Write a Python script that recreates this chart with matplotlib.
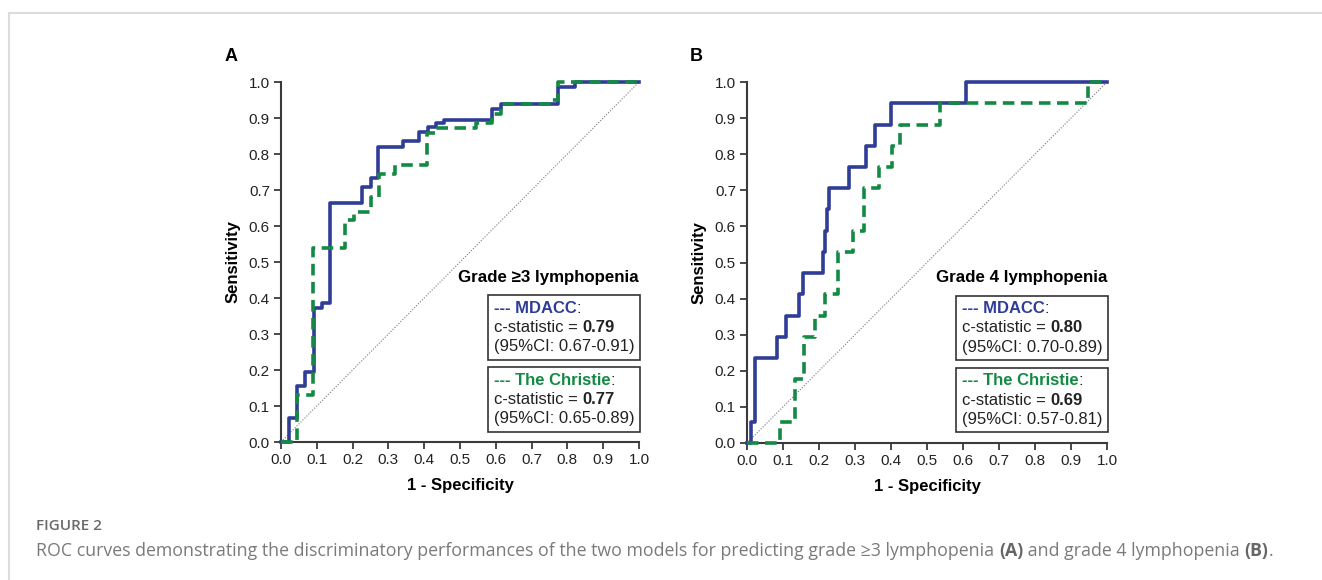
import matplotlib
matplotlib.use("Agg")
import matplotlib.pyplot as plt
from matplotlib.lines import Line2D
from matplotlib.offsetbox import TextArea, HPacker, VPacker, AnchoredOffsetbox

plt.rcParams['font.family'] = ['Liberation Sans', 'DejaVu Sans']

# ROC step points (1 - specificity, sensitivity)
a_mdacc_fpr = [0, 0.022, 0.044, 0.067, 0.092, 0.115, 0.137, 0.226, 0.25, 0.272, 0.342,
               0.386, 0.41, 0.433, 0.455, 0.59, 0.615, 0.775, 0.82, 1.0]
a_mdacc_tpr = [0, 0.066, 0.156, 0.194, 0.371, 0.385, 0.665, 0.707, 0.733, 0.82, 0.836,
               0.86, 0.876, 0.887, 0.895, 0.925, 0.938, 0.987, 1.0, 1.0]
a_christie_fpr = [0, 0.044, 0.09, 0.18, 0.205, 0.251, 0.274, 0.318, 0.407, 0.43, 0.544,
                  0.59, 0.615, 0.75, 0.775, 1.0]
a_christie_tpr = [0, 0.13, 0.538, 0.617, 0.639, 0.68, 0.744, 0.769, 0.859, 0.871, 0.885,
                  0.91, 0.938, 0.95, 1.0, 1.0]

b_mdacc_fpr = [0, 0.01, 0.021, 0.084, 0.107, 0.144, 0.156, 0.211, 0.218, 0.223, 0.228,
               0.282, 0.331, 0.356, 0.399, 0.607, 1.0]
b_mdacc_tpr = [0, 0.059, 0.235, 0.294, 0.353, 0.412, 0.471, 0.529, 0.588, 0.647, 0.706,
               0.765, 0.824, 0.882, 0.941, 1.0, 1.0]
b_christie_fpr = [0, 0.091, 0.134, 0.157, 0.188, 0.218, 0.253, 0.294, 0.325, 0.367, 0.404,
                  0.426, 0.537, 0.947, 1.0]
b_christie_tpr = [0, 0.059, 0.176, 0.294, 0.353, 0.412, 0.529, 0.588, 0.706, 0.765, 0.824,
                  0.882, 0.941, 1.0, 1.0]

panel_letters = ["A", "B"]
panel_titles = ["Grade \u22653 lymphopenia", "Grade 4 lymphopenia"]
mdacc_c = ["0.79", "0.80"]
mdacc_ci = ["(95%CI: 0.67-0.91)", "(95%CI: 0.70-0.89)"]
christie_c = ["0.77", "0.69"]
christie_ci = ["(95%CI: 0.65-0.89)", "(95%CI: 0.57-0.81)"]
ticks = [0.0, 0.1, 0.2, 0.3, 0.4, 0.5, 0.6, 0.7, 0.8, 0.9, 1.0]

BLUE = "#2f3d97"
GREEN = "#138a43"
SPINE = "#3a3a3a"
BOX_FS = 12

W, H = 1322, 580
fig = plt.figure(figsize=(W / 100, H / 100), dpi=100)

# card border (top + left)
fig.add_artist(Line2D([9 / W, 1], [1 - 13 / H, 1 - 13 / H], color="#dcdcdc", lw=1.5,
                      transform=fig.transFigure))
fig.add_artist(Line2D([9 / W, 9 / W], [0, 1 - 13 / H], color="#dcdcdc", lw=1.5,
                      transform=fig.transFigure))

# axes placement in pixels: left, right, top, bottom
boxes = [(281, 639, 82, 442), (747, 1107, 82, 443)]
curves = [
    (a_mdacc_fpr, a_mdacc_tpr, a_christie_fpr, a_christie_tpr),
    (b_mdacc_fpr, b_mdacc_tpr, b_christie_fpr, b_christie_tpr),
]


def stat_box(ax, name, color, c_val, ci, top):
    line1 = HPacker(children=[
        TextArea("--- " + name, textprops=dict(color=color, fontweight="bold", fontsize=BOX_FS)),
        TextArea(":", textprops=dict(color="#222222", fontsize=BOX_FS)),
    ], sep=0, pad=0, align="baseline")
    line2 = HPacker(children=[
        TextArea("c-statistic = ", textprops=dict(color="#222222", fontsize=BOX_FS)),
        TextArea(c_val, textprops=dict(color="#222222", fontweight="bold", fontsize=BOX_FS)),
    ], sep=0, pad=0, align="baseline")
    line3 = TextArea(ci, textprops=dict(color="#222222", fontsize=BOX_FS))
    vp = VPacker(children=[line1, line2, line3], sep=3, pad=0, align="left")
    box = AnchoredOffsetbox(loc="upper right", child=vp, pad=0.4, borderpad=0,
                            frameon=True, bbox_to_anchor=(1.003, top),
                            bbox_transform=ax.transAxes)
    box.patch.set_edgecolor("#333333")
    box.patch.set_linewidth(1.2)
    box.patch.set_boxstyle("square", pad=0)
    ax.add_artist(box)


for i in range(2):
    l, r, t, b = boxes[i]
    ax = fig.add_axes([l / W, 1 - b / H, (r - l) / W, (b - t) / H])
    m_x, m_y, c_x, c_y = curves[i]
    ax.plot([0, 1], [0, 1], color="#777777", lw=0.8, ls=(0, (1, 1.5)), zorder=1)
    ax.plot(m_x, m_y, drawstyle="steps-post", color=BLUE, lw=2.6, clip_on=False, zorder=3)
    ax.plot(c_x, c_y, drawstyle="steps-post", color=GREEN, lw=2.6, ls=(0, (3.2, 1.8)),
            clip_on=False, zorder=4)
    ax.set_xlim(0, 1)
    ax.set_ylim(0, 1)
    ax.set_xticks(ticks)
    ax.set_yticks(ticks)
    ax.set_xticklabels([f"{v:.1f}" for v in ticks])
    ax.set_yticklabels([f"{v:.1f}" for v in ticks])
    for s in ["top", "right"]:
        ax.spines[s].set_visible(False)
    for s in ["left", "bottom"]:
        ax.spines[s].set_color(SPINE)
        ax.spines[s].set_linewidth(1.5)
    ax.tick_params(direction="out", length=5, width=1.3, color=SPINE, labelsize=11,
                   labelcolor="#222222", pad=3)
    ax.set_xlabel("1 - Specificity", fontsize=12, fontweight="bold", labelpad=8)
    ax.set_ylabel("Sensitivity", fontsize=12, fontweight="bold", labelpad=6)
    ax.text(-0.14, 1.07, panel_letters[i], transform=ax.transAxes, fontsize=13,
            fontweight="bold", ha="center", va="center")
    ax.text(1.0, 0.458, panel_titles[i], transform=ax.transAxes, fontsize=12.2,
            fontweight="bold", ha="right", va="center")
    stat_box(ax, "MDACC", BLUE, mdacc_c[i], mdacc_ci[i], 0.408)
    stat_box(ax, "The Christie", GREEN, christie_c[i], christie_ci[i], 0.208)

# caption
fig.text(36 / W, 1 - 526 / H, "FIGURE 2", family="Open Sans", fontsize=11,
         fontweight="semibold", color="#6a6a6a", va="center", ha="left")
cap_props = dict(family="Open Sans", fontsize=12.8, color="#7a7a7a")
cap_bold = dict(family="Open Sans", fontsize=12.8, color="#666666", fontweight="bold")
caption = HPacker(children=[
    TextArea("ROC curves demonstrating the discriminatory performances of the two models "
             "for predicting grade \u22653 lymphopenia ", textprops=cap_props),
    TextArea("(A)", textprops=cap_bold),
    TextArea(" and grade 4 lymphopenia ", textprops=cap_props),
    TextArea("(B)", textprops=cap_bold),
    TextArea(".", textprops=cap_props),
], sep=0, pad=0, align="baseline")
fig.add_artist(AnchoredOffsetbox(loc="center left", child=caption, pad=0, borderpad=0,
                                 frameon=False, bbox_to_anchor=(36 / W, 1 - 551 / H),
                                 bbox_transform=fig.transFigure))

fig.savefig("out.png", dpi=100)
